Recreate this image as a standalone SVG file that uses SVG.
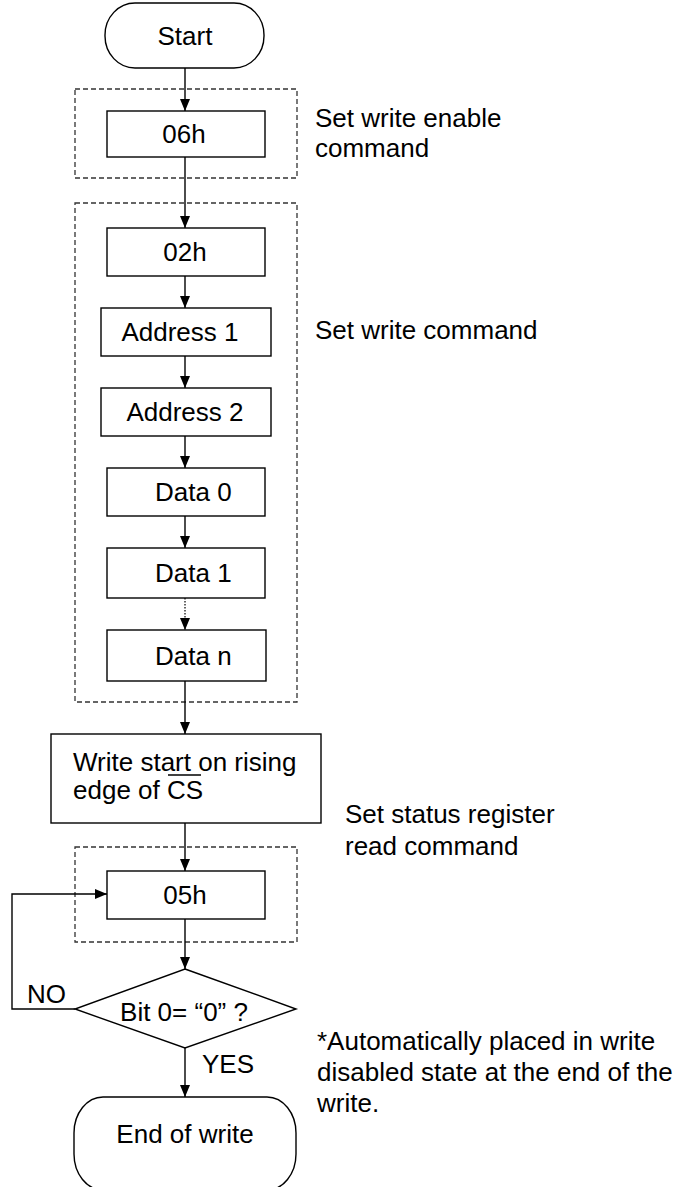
<svg xmlns="http://www.w3.org/2000/svg" width="700" height="1187" viewBox="0 0 700 1187">
<style>
  .box { fill: #ffffff; stroke: #000000; stroke-width: 1.4; }
  .grp { fill: none; stroke: #333333; stroke-width: 1.3; stroke-dasharray: 5 3; }
  .t { font-family: "Liberation Sans", Arial, sans-serif; font-size: 26px; fill: #000000; }
  .c { text-anchor: middle; }
  .wire { fill: none; stroke: #000000; stroke-width: 1.4; }
  .dot { fill: none; stroke: #333333; stroke-width: 1.5; stroke-dasharray: 1.5 1.5; }
</style>
<defs>
  <marker id="arr" viewBox="0 0 12 10" refX="12" refY="5" markerWidth="12" markerHeight="10" markerUnits="userSpaceOnUse" orient="auto">
    <path d="M0,0 L12,5 L0,10 z" fill="#000000"/>
  </marker>
</defs>
<rect fill="#ffffff" x="0" y="0" width="700" height="1187"/>

<g id="groups">
  <rect class="grp" x="75" y="89" width="222" height="89"/>
  <rect class="grp" x="75" y="203" width="222" height="499"/>
  <rect class="grp" x="75" y="847" width="222" height="95"/>
</g>

<g id="connectors">
  <line class="wire" x1="185" y1="68" x2="185" y2="111" marker-end="url(#arr)"/>
  <line class="wire" x1="185" y1="157" x2="185" y2="228" marker-end="url(#arr)"/>
  <line class="wire" x1="185" y1="276" x2="185" y2="308" marker-end="url(#arr)"/>
  <line class="wire" x1="185" y1="356" x2="185" y2="388" marker-end="url(#arr)"/>
  <line class="wire" x1="185" y1="436" x2="185" y2="468" marker-end="url(#arr)"/>
  <line class="wire" x1="185" y1="516" x2="185" y2="548" marker-end="url(#arr)"/>
  <line class="dot" x1="185" y1="598" x2="185" y2="630" marker-end="url(#arr)"/>
  <line class="wire" x1="185" y1="681" x2="185" y2="734" marker-end="url(#arr)"/>
  <line class="wire" x1="185" y1="823" x2="185" y2="871" marker-end="url(#arr)"/>
  <line class="wire" x1="185" y1="919" x2="185" y2="969" marker-end="url(#arr)"/>
  <line class="wire" x1="185" y1="1048" x2="185" y2="1097" marker-end="url(#arr)"/>
  <polyline class="wire" points="75,1009 12,1009 12,894 107,894" marker-end="url(#arr)"/>
</g>

<g id="start">
  <rect class="box" x="105" y="3" width="159" height="65" rx="30" ry="32"/>
  <text class="t c" x="185" y="45">Start</text>
</g>
<g id="n06h">
  <rect class="box" x="107" y="111" width="158" height="46"/>
  <text class="t c" x="184" y="143">06h</text>
</g>
<g id="n02h">
  <rect class="box" x="107" y="228" width="158" height="48"/>
  <text class="t c" x="185" y="261">02h</text>
</g>
<g id="addr1">
  <rect class="box" x="101" y="308" width="170" height="48"/>
  <text class="t c" x="180" y="341">Address 1</text>
</g>
<g id="addr2">
  <rect class="box" x="101" y="388" width="170" height="48"/>
  <text class="t c" x="185" y="421">Address 2</text>
</g>
<g id="data0">
  <rect class="box" x="107" y="468" width="158" height="48"/>
  <text class="t" x="155" y="501">Data 0</text>
</g>
<g id="data1">
  <rect class="box" x="107" y="548" width="158" height="50"/>
  <text class="t" x="155" y="582">Data 1</text>
</g>
<g id="datan">
  <rect class="box" x="107" y="630" width="159" height="51"/>
  <text class="t" x="155" y="665">Data n</text>
</g>
<g id="writestart">
  <rect class="box" x="51" y="734" width="270" height="89"/>
  <text class="t" x="73" y="771">Write start on rising</text>
  <text class="t" x="73" y="799">edge of CS</text>
  <line x1="168" y1="775" x2="201" y2="775" stroke="#000000" stroke-width="1.4"/>
</g>
<g id="n05h">
  <rect class="box" x="107" y="871" width="158" height="48"/>
  <text class="t c" x="185" y="904">05h</text>
</g>
<g id="decision">
  <polygon class="box" points="185,969 296,1009 185,1048 75,1009"/>
  <text class="t c" x="184" y="1021">Bit 0= “0” ?</text>
</g>
<g id="end">
  <rect class="box" x="74" y="1097" width="222" height="93" rx="29" ry="36"/>
  <text class="t c" x="185" y="1143">End of write</text>
</g>

<g id="labels">
  <text class="t" x="27" y="1003">NO</text>
  <text class="t" x="202" y="1073">YES</text>
  <text class="t" x="315" y="127">Set write enable</text>
  <text class="t" x="315" y="157">command</text>
  <text class="t" x="315" y="339">Set write command</text>
  <text class="t" x="345" y="823">Set status register</text>
  <text class="t" x="345" y="855">read command</text>
  <text class="t" x="317" y="1050">*Automatically placed in write</text>
  <text class="t" x="317" y="1081">disabled state at the end of the</text>
  <text class="t" x="317" y="1112">write.</text>
</g>
</svg>
